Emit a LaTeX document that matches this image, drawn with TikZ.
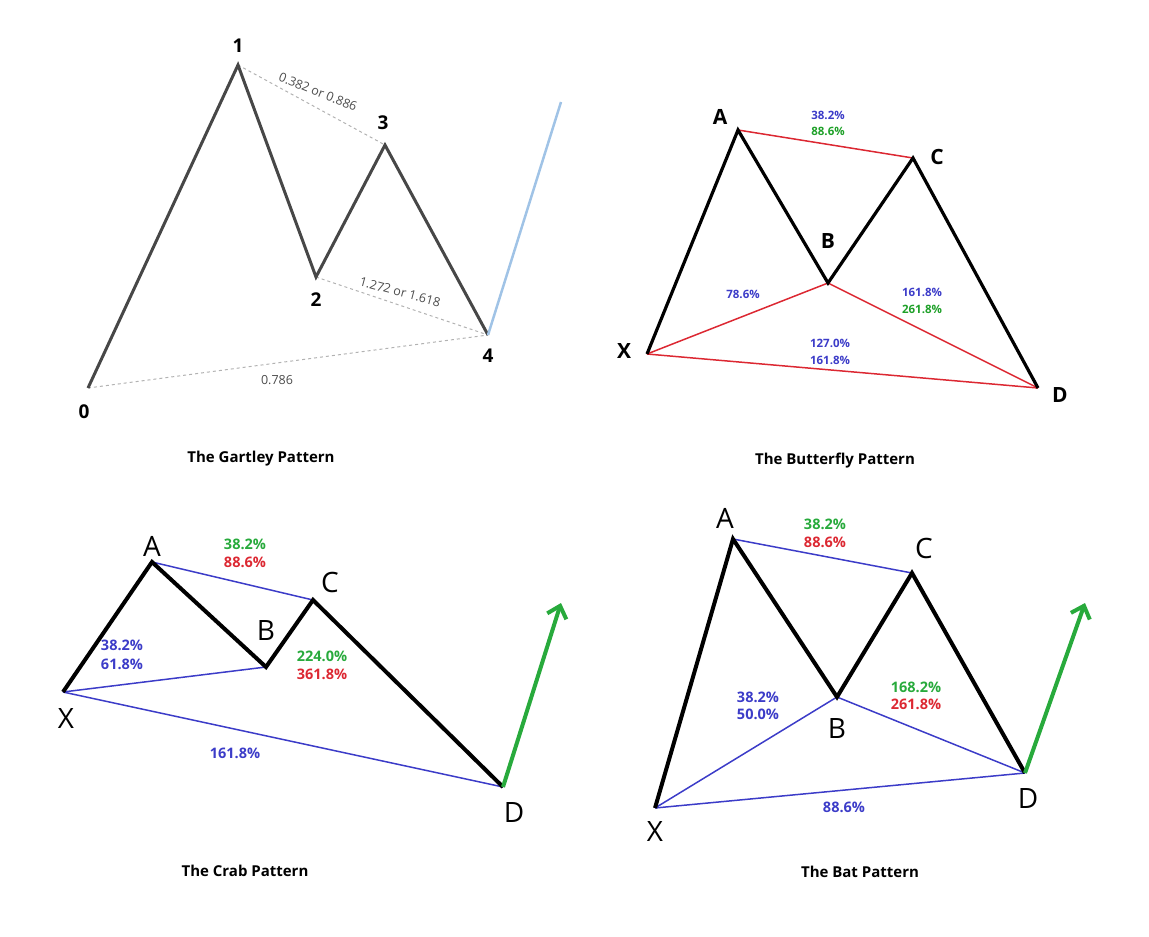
\documentclass[tikz,border=0pt]{standalone}
\usepackage{fontspec}
\setmainfont{Open Sans}
\usetikzlibrary{arrows.meta}
\definecolor{pblue}{RGB}{60,60,200}
\definecolor{pgreen}{RGB}{30,160,40}
\definecolor{pred}{RGB}{220,40,50}
\definecolor{bgreen}{RGB}{40,170,60}
\begin{document}
\begin{tikzpicture}[x=1pt,y=-1pt,
 gline/.style={line width=3pt,draw=black!72},
 gdash/.style={dashed,draw=black!30,line width=1pt},
 blk/.style={line width=3.2pt,draw=black},
 rl/.style={line width=1.5pt,draw=pred},
 bl/.style={line width=1.5pt,draw=pblue},
 num/.style={font=\bfseries\fontsize{19}{19}\selectfont},
 bnum/.style={font=\bfseries\fontsize{21}{21}\selectfont},
 big/.style={font=\fontsize{28}{28}\selectfont},
 title/.style={font=\bfseries\fontsize{15}{17}\selectfont},
 sm/.style={font=\fontsize{12.5}{13}\selectfont,text=black!70},
 pc/.style={font=\bfseries\fontsize{11.5}{12}\selectfont},
 pcb/.style={font=\bfseries\fontsize{14.5}{15}\selectfont}]
\useasboundingbox (0,0) rectangle (1149,937);
% Gartley
\coordinate (g0) at (88,388); \coordinate (g1) at (238,65);
\coordinate (g2) at (316,277); \coordinate (g3) at (385,145);
\coordinate (g4) at (488,335); \coordinate (g5) at (561,102);
\draw[gdash] (g1) -- (g3); \draw[gdash] (g2) -- (g4); \draw[gdash] (g0) -- (g4);
\draw[gline,line join=miter] (g0) -- (g1) -- (g2) -- (g3) -- (g4);
\draw[line width=2.5pt,draw={rgb,255:red,160;green,195;blue,230}] (g4) -- (g5);
\node[num] (l0) at (84,412) {0}; \node[num] (l1) at (238,46) {1};
\node[num] (l2) at (316,300) {2}; \node[num] (l3) at (383,123) {3};
\node[num] (l4) at (488,356) {4};
\node[sm,rotate=-22] (t1) at (318,92) {0.382 or 0.886};
\node[sm,rotate=-15] (t2) at (400,292) {1.272 or 1.618};
\node[sm] (t3) at (277,380) {0.786};
\node[title] (tg) at (261,459) {The Gartley Pattern};
% Butterfly
\coordinate (bx) at (647,354); \coordinate (ba) at (738,130);
\coordinate (bb) at (828,283); \coordinate (bc) at (913,158);
\coordinate (bd) at (1038,388);
\draw[rl] (ba) -- (bc); \draw[rl] (bx) -- (bb) -- (bd); \draw[rl] (bx) -- (bd);
\draw[blk] (bx) -- (ba) -- (bb) -- (bc) -- (bd);
\node[bnum] (bla) at (720,117) {A};
\node[bnum] (blb) at (828,241) {B};
\node[bnum] (blc) at (937,157) {C};
\node[bnum] (blx) at (624,351) {X};
\node[bnum] (bld) at (1060,395) {D};
\node[pc,text=pblue] at (828,115) {38.2\%}; \node[pc,text=pgreen] at (828,131) {88.6\%};
\node[pc,text=pblue] at (743,294) {78.6\%};
\node[pc,text=pblue] at (922,292) {161.8\%}; \node[pc,text=pgreen] at (922,309) {261.8\%};
\node[pc,text=pblue] at (830,343) {127.0\%}; \node[pc,text=pblue] at (830,360) {161.8\%};
\node[title] (tb) at (835,461) {The Butterfly Pattern};
% Crab
\coordinate (cx) at (63,692); \coordinate (ca) at (152,562);
\coordinate (cb) at (266,667); \coordinate (cc) at (313,600);
\coordinate (cd) at (503,787); \coordinate (ce) at (561,603);
\draw[bl] (ca) -- (cc); \draw[bl] (cx) -- (cb); \draw[bl] (cx) -- (cd);
\draw[blk,line width=4pt] (cx) -- (ca) -- (cb) -- (cc) -- (cd);
\draw[line width=4pt,draw=bgreen,-{Straight Barb[length=11pt,width=20pt]}] (cd) -- (ce);
\node[big] at (152,546) {A}; \node[big] at (266,630) {B};
\node[big] at (330,582) {C}; \node[big] at (66,718) {X};
\node[big] at (514,812) {D};
\node[pcb,text=bgreen] at (245,544) {38.2\%}; \node[pcb,text=pred] at (245,562) {88.6\%};
\node[pcb,text=pblue] at (122,645) {38.2\%}; \node[pcb,text=pblue] at (122,664) {61.8\%};
\node[pcb,text=bgreen] at (322,656) {224.0\%}; \node[pcb,text=pred] at (322,674) {361.8\%};
\node[pcb,text=pblue] at (235,753) {161.8\%};
\node[title] (tc) at (245,871) {The Crab Pattern};
% Bat
\coordinate (tx) at (655,808); \coordinate (ta) at (733,539);
\coordinate (tb2) at (837,697); \coordinate (tc2) at (912,573);
\coordinate (td) at (1025,773); \coordinate (te) at (1085,603);
\draw[bl] (ta) -- (tc2); \draw[bl] (tx) -- (tb2) -- (td); \draw[bl] (tx) -- (td);
\draw[blk,line width=4pt] (tx) -- (ta) -- (tb2) -- (tc2) -- (td);
\draw[line width=4pt,draw=bgreen,-{Straight Barb[length=11pt,width=20pt]}] (td) -- (te);
\node[big] at (725,518) {A}; \node[big] at (837,728) {B};
\node[big] at (924,548) {C}; \node[big] at (655,831) {X};
\node[big] at (1028,798) {D};
\node[pcb,text=bgreen] at (825,524) {38.2\%}; \node[pcb,text=pred] at (825,542) {88.6\%};
\node[pcb,text=pblue] at (758,697) {38.2\%}; \node[pcb,text=pblue] at (758,714) {50.0\%};
\node[pcb,text=bgreen] at (916,687) {168.2\%}; \node[pcb,text=pred] at (916,704) {261.8\%};
\node[pcb,text=pblue] at (844,807) {88.6\%};
\node[title] (tt) at (860,872) {The Bat Pattern};
\end{tikzpicture}
\end{document}
